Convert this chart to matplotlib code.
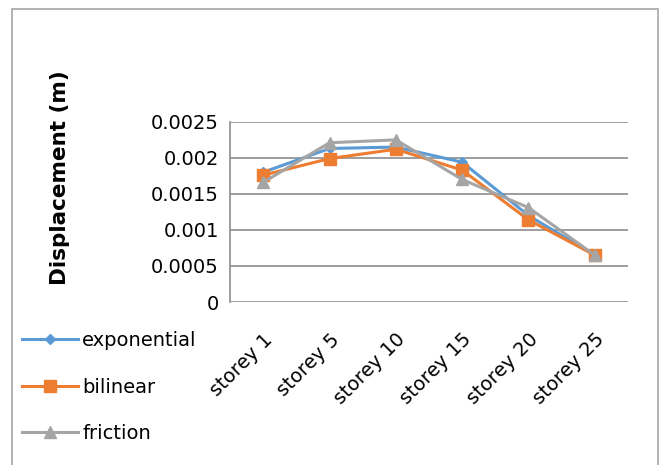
import matplotlib.pyplot as plt
from matplotlib.patches import Rectangle

# storeys and displacement values (m)
storeys = ['storey 1', 'storey 5', 'storey 10', 'storey 15', 'storey 20', 'storey 25']
exponential = [0.00180, 0.00213, 0.00215, 0.00194, 0.00120, 0.00065]
bilinear = [0.00176, 0.00199, 0.00212, 0.00183, 0.00114, 0.00065]
friction = [0.00166, 0.00221, 0.00225, 0.00170, 0.00131, 0.00065]
y_ticks = [0, 0.0005, 0.001, 0.0015, 0.002, 0.0025]
y_tick_labels = ['0', '0.0005', '0.001', '0.0015', '0.002', '0.0025']

fig = plt.figure(figsize=(6.6, 4.65), dpi=100)
ax = fig.add_axes([0.3485, 0.3505, 0.603, 0.3875])

# ramka wokół całego wykresu
fig.patches.append(Rectangle((12 / 660, -0.01), 646 / 660, 1 - 9 / 465 + 0.01,
                             transform=fig.transFigure, fill=False,
                             edgecolor='#a6a6a6', linewidth=1.2))

x = range(len(storeys))
ax.plot(x, exponential, color='#5b9bd5', linewidth=2.2, marker='D', markersize=5, label='exponential')
ax.plot(x, bilinear, color='#ed7d31', linewidth=2.2, marker='s', markersize=8, label='bilinear')
ax.plot(x, friction, color='#a5a5a5', linewidth=2.2, marker='^', markersize=8, label='friction')

ax.set_xlim(-0.5, len(storeys) - 0.5)
ax.set_ylim(0, 0.0025)
ax.set_yticks(y_ticks)
ax.set_yticklabels(y_tick_labels, fontsize=14)
ax.set_xticks(list(x))
ax.set_xticklabels(storeys, fontsize=14, rotation=45, ha='right', va='top', rotation_mode='anchor')
ax.tick_params(length=0, pad=8)
ax.tick_params(axis='x', pad=20)

ax.grid(axis='y', color='#8c8c8c', linewidth=1.2)
ax.set_axisbelow(True)
for s in ['top', 'right', 'bottom']:
    ax.spines[s].set_visible(False)
ax.spines['left'].set_color('#8c8c8c')
ax.spines['left'].set_linewidth(1.2)

fig.text(60 / 660, 1 - 178 / 465, 'Displacement (m)', rotation=90, fontsize=15.5,
         fontweight='bold', ha='center', va='center')

fig.legend(loc='upper left', bbox_to_anchor=(22 / 660, 1 - 331 / 465), frameon=False,
           fontsize=14, handlelength=2.9, handletextpad=0.2, labelspacing=1.42,
           borderaxespad=0, borderpad=0)

fig.savefig('out.png', dpi=100)
